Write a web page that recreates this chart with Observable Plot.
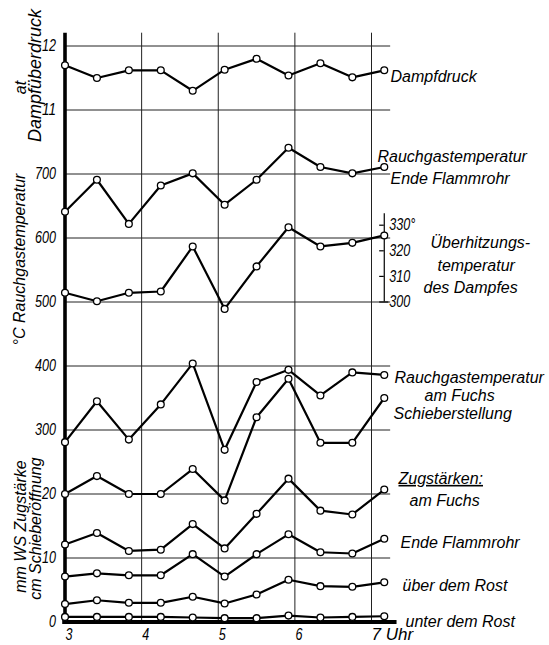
<!DOCTYPE html>
<html><head><meta charset="utf-8">
<script src="https://cdn.jsdelivr.net/npm/d3@7"></script>
<script src="https://cdn.jsdelivr.net/npm/@observablehq/plot@0.6"></script>
<style>
html,body{margin:0;padding:0;background:#fff;}
#chart{width:549px;height:645px;overflow:hidden;}
</style></head><body><div id="chart"></div>
<script>
// ---------- data ----------
const times = ["3:00","3:25","3:50","4:15","4:40","5:05","5:30","5:55","6:20","6:45","7:10"];
const dampfdruck   = [11.7, 11.5, 11.62, 11.62, 11.3, 11.63, 11.8, 11.54, 11.73, 11.51, 11.62]; // at
const tempFlammrohr = [641, 691, 622, 682, 701, 652, 691, 741, 711, 701, 711];            // °C
const ueberhitzung = [303.6, 300.3, 303.6, 304.1, 321.7, 297.3, 313.9, 329.2, 321.7, 323.1, 326]; // °C
const tempFuchs    = [281, 345, 285, 340, 404, 269, 375, 394, 354, 390, 386];              // °C
const schieber     = [20, 22.8, 20, 20, 23.9, 19, 32, 38, 28, 28, 35];                    // cm
const zugFuchs     = [12.1, 13.9, 11.1, 11.3, 15.3, 11.5, 16.9, 22.4, 17.4, 16.8, 20.7];   // mm WS
const zugFlammrohr = [7.1, 7.6, 7.3, 7.3, 10.6, 7.1, 10.6, 13.7, 10.9, 10.7, 13.0];
const zugUeberRost = [2.8, 3.4, 3.0, 3.0, 3.95, 2.9, 4.3, 6.6, 5.6, 5.5, 6.2];
const zugUnterRost = [0.8, 0.8, 0.8, 0.8, 0.7, 0.6, 0.6, 1.0, 0.7, 0.8, 0.9];

const yTickLabels = ["0","10","20","300","400","500","600","700","11","12"];
const superTicks = [300, 310, 320, 330];
const superTickLabels = ["300", "310", "320", "330°"];
const xTicks = [3, 4, 5, 6, 7];
const xTickLabels = ["3", "4", "5", "6", "7 Uhr"];

// ---------- helpers ----------
const hour = t => { const [h, m] = t.split(":").map(Number); return h + m / 60; };
// each unit onto the common grid (one grid step = 1 unit of the y scale)
const toGrid = {
  pressure: v => v - 3,
  temp: v => v / 100,
  superheat: v => 5 + (v - 300) * 0.04,
  draft: v => v / 10
};
const series = [
  {name: "Dampfdruck", values: dampfdruck, unit: "pressure"},
  {name: "Rauchgastemperatur Ende Flammrohr", values: tempFlammrohr, unit: "temp"},
  {name: "Überhitzungstemperatur", values: ueberhitzung, unit: "superheat"},
  {name: "Rauchgastemperatur am Fuchs", values: tempFuchs, unit: "temp"},
  {name: "Schieberstellung", values: schieber, unit: "draft"},
  {name: "Zug am Fuchs", values: zugFuchs, unit: "draft"},
  {name: "Zug Ende Flammrohr", values: zugFlammrohr, unit: "draft"},
  {name: "Zug über dem Rost", values: zugUeberRost, unit: "draft"},
  {name: "Zug unter dem Rost", values: zugUnterRost, unit: "draft"}
];
const rows = series.flatMap(s => s.values.map((v, i) => ({series: s.name, t: hour(times[i]), v, g: toGrid[s.unit](v)})));
const tFirst = hour(times[0]);
const tLast = hour(times[times.length - 1]);
const gridEnd = hour("7:15");
const axisEnd = hour("7:20");
const gTop = 9.2;
const gridIdx = yTickLabels.map((_, i) => i);

const font = {fontFamily: "'Liberation Sans', Arial, sans-serif", fontStyle: "italic", fill: "black"};
const tickFont = {fontFamily: "'Liberation Sans', Arial, sans-serif", fontStyle: "italic", fill: "black", className: "tick"};

// annotation layout (pixel positions)
const notes = [
  ["Dampfdruck", 390, 70],
  ["Rauchgastemperatur", 377, 150],
  ["Ende Flammrohr", 390, 172],
  ["Überhitzungs-", 430, 236],
  ["temperatur", 437, 259],
  ["des Dampfes", 423, 281],
  ["Rauchgastemperatur", 394, 371],
  ["am Fuchs", 424, 389],
  ["Schieberstellung", 393, 407],
  ["Zugstärken:", 398, 472],
  ["am Fuchs", 409, 494],
  ["Ende Flammrohr", 400, 536],
  ["über dem Rost", 402, 579],
  ["unter dem Rost", 405, 615]
];
const sideNotes = [
  ["at", 14, 87, 16],
  ["Dampfüberdruck", 28, 75, 18],
  ["°C Rauchgastemperatur", 13, 259, 16],
  ["mm WS Zugstärke", 14, 526, 16],
  ["cm Schieberöffnung", 29, 528, 16]
];

const marks = [
  // grid
  Plot.ruleX(xTicks.slice(1), {y1: 0, y2: gTop, stroke: "#222", strokeWidth: 1}),
  Plot.ruleY(gridIdx.slice(1), {x1: tFirst, x2: gridEnd, stroke: "#222", strokeWidth: 1}),
  // main axes
  Plot.ruleX([tFirst], {y1: 0, y2: gTop, stroke: "black", strokeWidth: 3.6}),
  Plot.ruleY([0], {x1: tFirst - 0.03, x2: axisEnd, stroke: "black", strokeWidth: 4}),
  // superheat axis
  Plot.ruleX([tLast], {y1: toGrid.superheat(300), y2: toGrid.superheat(334.5), stroke: "black", strokeWidth: 1.2}),
  Plot.ruleY(superTicks, {y: d => toGrid.superheat(d), x1: tLast - 0.06, x2: d => d === 300 ? tLast + 0.06 : tLast, stroke: "black", strokeWidth: 1.2}),
  // data
  Plot.line(rows, {x: "t", y: "g", z: "series", stroke: "black", strokeWidth: 2.2}),
  Plot.dot(rows, {x: "t", y: "g", r: 3.4, fill: "white", stroke: "black", strokeWidth: 1.3}),
  // tick labels
  Plot.text(gridIdx, {x: tFirst, y: d => d, text: d => yTickLabels[d], textAnchor: "end", dx: -9, fontSize: 17, ...tickFont}),
  Plot.text(superTicks, {x: tLast, y: d => toGrid.superheat(d), text: (d, i) => superTickLabels[i], textAnchor: "start", dx: 5, fontSize: 16, ...tickFont}),
  Plot.text(xTicks.slice(0, -1), {x: d => d, y: 0, text: (d, i) => xTickLabels[i], textAnchor: "middle", dx: 4, dy: 13, fontSize: 17, ...tickFont}),
  Plot.text(xTicks.slice(-1), {x: d => d, y: 0, text: () => xTickLabels[xTickLabels.length - 1], textAnchor: "start", dx: 0, dy: 13, fontSize: 17, ...font}),
  // annotations
  ...notes.map(([txt, px, py]) => Plot.text([txt], {frameAnchor: "top-left", dx: px, dy: py, text: d => d, textAnchor: "start", fontSize: 16, ...font})),
  ...sideNotes.map(([txt, px, py, fs]) => Plot.text([txt], {frameAnchor: "top-left", dx: px, dy: py, text: d => d, rotate: -90, textAnchor: "middle", fontSize: fs, ...font}))
];

const chart = Plot.plot({
  width: 549,
  height: 645,
  marginTop: 0, marginRight: 0, marginBottom: 0, marginLeft: 0,
  x: {domain: [3, 7], range: [64.5, 371], axis: null},
  y: {domain: [0, 9], range: [621.5, 45.5], axis: null},
  style: {background: "white", color: "black", overflow: "visible"},
  marks
});
document.getElementById("chart").appendChild(chart);
// narrow (condensed) figures as in the original lettering
d3.select(chart).selectAll("g.tick text").each(function() {
  const s = this.textContent;
  const w = [...s].reduce((a, c) => a + (/[0-9]/.test(c) ? 7 : 5), 0);
  d3.select(this).attr("textLength", w).attr("lengthAdjust", "spacingAndGlyphs");
});
d3.select(chart).selectAll("text").filter(function() { return this.textContent === "Zugstärken:"; })
  .style("text-decoration", "underline");
</script>
</body></html>
